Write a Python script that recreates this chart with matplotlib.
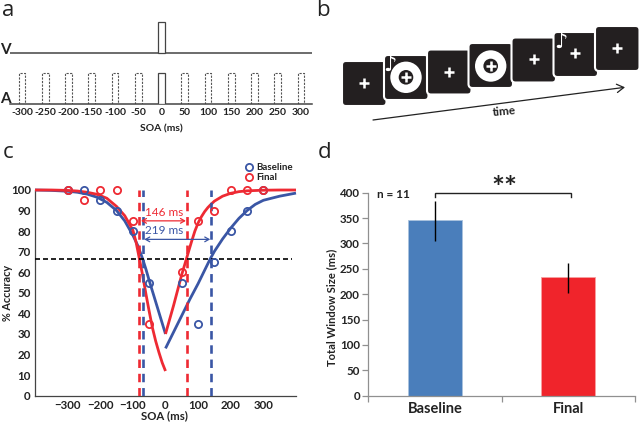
import matplotlib
matplotlib.use("Agg")
import matplotlib.pyplot as plt
from matplotlib.patches import FancyBboxPatch, Circle, Rectangle

plt.rcParams['font.family'] = ['Lato', 'DejaVu Sans']

W, H = 640, 422
# ---------- data ----------
pulse_soas = [-300, -250, -200, -150, -100, -50, 50, 100, 150, 200, 250, 300]
a_ticks = [-300, -250, -200, -150, -100, -50, 0, 50, 100, 150, 200, 250, 300]

c_soa = [-300, -250, -200, -150, -100, -50, 50, 100, 150, 200, 250, 300]
c_base = [100, 100, 95, 90, 80, 55, 55, 35, 65, 80, 90, 100]
c_final = [100, 95, 100, 100, 85, 35, 60, 85, 90, 100, 100, 100]

base_left_x = [-400, -350, -300, -270, -240, -210, -180, -150, -125, -100, -85, -70, -60, -50, -25, 0]
base_left_y = [100, 99.8, 99.4, 98.9, 98, 96.5, 94, 90, 85, 78, 73, 66.5, 61.5, 56, 43, 30]
base_right_x = [0, 25, 50, 75, 100, 120, 137, 150, 175, 200, 225, 250, 275, 300, 350, 400]
base_right_y = [23, 31, 39, 47, 54.5, 61, 66.5, 70.2, 76.2, 81.5, 86.2, 90, 93, 95, 97, 98.5]
final_left_x = [-400, -350, -300, -270, -240, -210, -180, -150, -125, -100, -90, -80, -70, -60, -50, -40, -30, -20, -10, 0]
final_left_y = [100, 100, 99.8, 99.5, 98.9, 97.9, 96, 92, 87.5, 80.5, 74.5, 66.5, 58.5, 49.5, 41, 33, 26.5, 21, 16, 12]
final_right_x = [0, 25, 50, 65, 80, 90, 100, 110, 120, 130, 138, 150, 175, 200, 225, 250, 300, 350, 400]
final_right_y = [30, 44, 59, 67, 75, 80, 84, 87, 89.5, 91.5, 92.8, 94.6, 97, 98.4, 99.2, 99.6, 99.9, 100, 100]

win_base = [-69, 138]
win_final = [-80, 65.5]
threshold = 66.5

groups = ['Baseline', 'Final']
win_size = [346, 234]
err_low = [41, 31]
err_high = [38, 27]

screens = [(342, 61), (384, 55), (427, 49.5), (468.5, 43), (511.5, 37.5), (553.5, 32), (595, 26)]
crosses = [(364.3, 83.3), (406, 77.3), (449.3, 71.7), (490.7, 66), (533.7, 59.3), (575.3, 53.3), (616.7, 47.7)]
rings = [(406, 77.3), (490.7, 66)]
notes = [(390, 65), (560.5, 42)]

BLUE = '#3a56a5'
RED = '#ee2a33'
TXT = '#222222'
fig = plt.figure(figsize=(W / 100, H / 100), dpi=100, facecolor='white')


def pxaxes(x0, y0, x1, y1, **kw):
    return fig.add_axes([x0 / W, 1 - y1 / H, (x1 - x0) / W, (y1 - y0) / H], **kw)


# ---------- overlay for panel letters and panel b ----------
ov = pxaxes(0, 0, W, H, facecolor='none')
ov.set_xlim(0, W)
ov.set_ylim(H, 0)
ov.axis('off')
for s, x, y in [('a', 2, 15.5), ('b', 316, 15.5), ('c', 3, 158), ('d', 318, 158)]:
    ov.text(x, y, s, fontsize=16, color='#222222', va='baseline', ha='left', family='Open Sans')

# panel b
for i, (x, y) in enumerate(screens):
    ov.add_patch(FancyBboxPatch((x + 3, y + 3), 38.5, 39, boxstyle='round,pad=3,rounding_size=4',
                                fc='#231f20', ec='white', lw=1.5, zorder=2 + i * 3))
    cx, cy = crosses[i]
    if (cx, cy) in rings:
        ov.add_patch(Circle((cx, cy), 15.7, fc='white', ec='none', zorder=3 + i * 3))
        ov.add_patch(Circle((cx, cy), 7.3, fc='#231f20', ec='none', zorder=3 + i * 3))
    ov.plot([cx], [cy], marker='+', ms=6.5, mew=1.8, color='white', zorder=4 + i * 3)
for x, y in notes:
    ov.text(x, y, '\u266a', color='white', fontsize=15, ha='center', va='center',
            family='DejaVu Sans', zorder=40)
ov.annotate('', xy=(625, 87.3), xytext=(373, 120),
            arrowprops=dict(arrowstyle='->,head_length=0.5,head_width=0.3', color='#222222', lw=0.9,
                            shrinkA=0, shrinkB=0))
ov.text(504, 111, 'time', fontsize=8.5, rotation=5, ha='center', va='center', color=TXT, fontweight='bold')

# ---------- panel a ----------
xa0, xa1 = 10, 312
scale = 0.465
center = 161.5
axa = pxaxes(xa0, 15, xa1, 104, facecolor='none')
axa.set_xlim((xa0 - center) / scale, (xa1 - center) / scale)
axa.set_ylim(0, 89)
for k in ['top', 'left', 'right']:
    axa.spines[k].set_visible(False)
axa.spines['bottom'].set_color('#444444')
axa.spines['bottom'].set_linewidth(1.1)
axa.set_yticks([])
axa.set_xticks(a_ticks)
axa.set_xticklabels([str(t) for t in a_ticks], fontsize=7.5, fontweight='bold', color=TXT)
axa.tick_params(axis='x', length=0, pad=3)
axa.set_xlabel('SOA (ms)', fontsize=7.5, fontweight='bold', color=TXT, labelpad=5)
axa.axhline(51.3, color='#444444', lw=1.1)
axa.add_patch(Rectangle((-7, 51.3), 14, 31, fc='white', ec='#444444', lw=0.9, zorder=3))
axa.add_patch(Rectangle((-7, 0), 14, 31, fc='white', ec='#444444', lw=0.9, zorder=3))
for s in pulse_soas:
    axa.plot([s - 7, s - 7, s + 7, s + 7], [0, 31, 31, 0], color='#555555', lw=0.8, ls=(0, (2, 1.2)))
ov.text(5, 49.5, 'V', fontsize=11, ha='center', va='center', color=TXT, fontweight='bold')
ov.text(5.5, 99, 'A', fontsize=11, ha='center', va='center', color=TXT, fontweight='bold')

# ---------- panel c ----------
axc = pxaxes(35, 190, 296, 395.7, facecolor='none')
axc.set_xlim(-400, 400)
axc.set_ylim(0, 100)
axc.spines['top'].set_visible(False)
axc.spines['right'].set_visible(False)
for k in ['left', 'bottom']:
    axc.spines[k].set_color('#444444')
    axc.spines[k].set_linewidth(0.9)
axc.set_yticks(range(0, 101, 10))
axc.set_xticks([-300, -200, -100, 0, 100, 200, 300])
axc.tick_params(axis='both', labelsize=8.3, length=0, pad=3, labelcolor=TXT)
for t in axc.get_xticklabels() + axc.get_yticklabels():
    t.set_fontweight('bold')
axc.set_xlabel('SOA (ms)', fontsize=8.2, fontweight='bold', color=TXT)
axc.xaxis.set_label_coords(0.497, (395.7 - 410) / 205.7)
axc.set_ylabel('% Accuracy', fontsize=7.8, fontweight='bold', color=TXT)
axc.yaxis.set_label_coords((13 - 35) / 261, 0.5)

axc.plot(base_left_x, base_left_y, color=BLUE, lw=2, clip_on=False, zorder=3, solid_capstyle='butt')
axc.plot(base_right_x, base_right_y, color=BLUE, lw=2, clip_on=False, zorder=3, solid_capstyle='butt')
axc.plot(final_left_x, final_left_y, color=RED, lw=2, clip_on=False, zorder=4, solid_capstyle='butt')
axc.plot(final_right_x, final_right_y, color=RED, lw=2, clip_on=False, zorder=4, solid_capstyle='butt')
for x in win_base:
    axc.vlines(x, 0, 100, color=BLUE, lw=1.9, linestyles=(0, (3.2, 2.2)), zorder=5)
for x in win_final:
    axc.vlines(x, 0, 100, color=RED, lw=1.9, linestyles=(0, (3.2, 2.2)), zorder=5)
axc.plot([-400, 389], [threshold, threshold], color='black', lw=1.2, ls=(0, (3, 1.8)), zorder=6)
h1, = axc.plot(c_soa, c_base, ls='none', marker='o', ms=5.2, mfc='none', mec=BLUE, mew=1.3,
               clip_on=False, zorder=7, label='Baseline')
h2, = axc.plot(c_soa, c_final, ls='none', marker='o', ms=5.2, mfc='none', mec=RED, mew=1.3,
               clip_on=False, zorder=8, label='Final')
axc.annotate('', xy=(win_final[1] - 3, 85), xytext=(win_final[0] + 5, 85),
             arrowprops=dict(arrowstyle='<->,head_length=0.3,head_width=0.17', color=RED, lw=0.9,
                             shrinkA=0, shrinkB=0), zorder=9)
axc.annotate('', xy=(win_base[1] - 1, 76), xytext=(win_base[0] + 4, 76),
             arrowprops=dict(arrowstyle='<->,head_length=0.3,head_width=0.17', color=BLUE, lw=0.9,
                             shrinkA=0, shrinkB=0), zorder=9)
axc.text(-3, 89, '146 ms', color=RED, fontsize=8.5, ha='center', va='center', zorder=9)
axc.text(-3, 80.2, '219 ms', color=BLUE, fontsize=8.5, ha='center', va='center', zorder=9)
leg = axc.legend(handles=[h1, h2], loc='upper left', bbox_to_anchor=(246.5 / W, 1 - 163.5 / H),
                 bbox_transform=fig.transFigure, frameon=False, fontsize=7, handlelength=0.6,
                 handletextpad=0.38, labelspacing=0.1, borderpad=0, borderaxespad=0)
for t in leg.get_texts():
    t.set_color(TXT)
    t.set_fontweight('bold')

# ---------- panel d ----------
axd = pxaxes(368.3, 192.7, 635, 395.7, facecolor='none')
axd.set_xlim(-0.5, 1.5)
axd.set_ylim(0, 400)
axd.spines['top'].set_visible(False)
axd.spines['right'].set_visible(False)
for k in ['left', 'bottom']:
    axd.spines[k].set_color('#909090')
    axd.spines[k].set_linewidth(0.9)
axd.bar([0, 1], win_size, width=0.405, color=['#4a7ebb', '#f0242b'],
        edgecolor=['#a9c2de', '#f7a0a0'], linewidth=0.6, zorder=2)
axd.vlines([0, 1], [v - l for v, l in zip(win_size, err_low)], [v + h for v, h in zip(win_size, err_high)],
           color='black', lw=1, zorder=3)
axd.set_yticks(range(0, 401, 50))
axd.set_xticks([-0.5, 0.5, 1.5])
axd.set_xticklabels([])
axd.tick_params(axis='both', color='#909090', length=4, width=0.9)
axd.tick_params(axis='y', labelsize=8.3, pad=2, labelcolor=TXT)
for t in axd.get_yticklabels():
    t.set_fontweight('bold')
for i, g in enumerate(groups):
    axd.text(i, -26, g, fontsize=10.5, ha='center', va='center', color=TXT, clip_on=False, fontweight='bold')
axd.set_ylabel('Total Window Size (ms)', fontsize=8, fontweight='bold', color=TXT)
axd.yaxis.set_label_coords((337 - 368.3) / 266.7, 0.437)
axd.plot([0, 0, 1.02, 1.02], [392, 400, 400, 392], color='#222222', lw=1, clip_on=False, zorder=4, solid_joinstyle='miter')
axd.text(0.52, 408, '**', fontsize=22, ha='center', va='center', color='#222222', clip_on=False, fontweight='bold')
axd.text(-0.31, 396, 'n = 11', fontsize=8.5, fontweight='bold', ha='center', va='center', color=TXT)

fig.savefig('out.png', dpi=100, facecolor='white')
